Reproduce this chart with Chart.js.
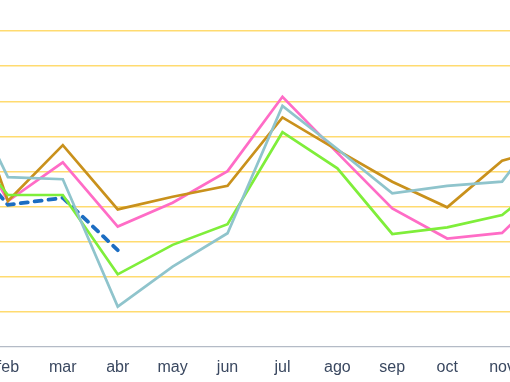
<!DOCTYPE html>
<html>
<head>
<meta charset="utf-8">
<script src="https://cdn.jsdelivr.net/npm/chart.js@4/dist/chart.umd.min.js"></script>
<style>
  html, body { margin: 0; padding: 0; background: #ffffff; overflow: hidden; }
  #wrap { position: relative; width: 510px; height: 382px; overflow: hidden; }
  #c { position: absolute; left: -47px; top: -4px; }
</style>
</head>
<body>
<div id="wrap"><canvas id="c" width="604" height="386"></canvas></div>
<script>
const months = ['ene','feb','mar','abr','may','jun','jul','ago','sep','oct','nov','dic'];
const serieOro   = [8.7, 4.16, 5.75, 3.92, 4.28, 4.59, 6.54, 5.61, 4.71, 3.98, 5.31, 5.75];
const serieRosa  = [7.0, 4.16, 5.26, 3.43, 4.11, 5.01, 7.13, 5.53, 3.95, 3.09, 3.25, 4.76];
const serieVerde = [6.3, 4.33, 4.33, 2.07, 2.91, 3.50, 6.12, 5.09, 3.22, 3.41, 3.76, 5.01];
const serieCeleste = [8.05, 4.84, 4.78, 1.15, 2.29, 3.24, 6.87, 5.64, 4.38, 4.59, 4.71, 6.75];
const serieAzul  = [5.9, 4.05, 4.25, 2.76, null, null, null, null, null, null, null, null];

const ds = (label, data, color, extra) => Object.assign({
  label, data, borderColor: color, backgroundColor: color,
  borderWidth: 2.7, pointRadius: 0, tension: 0, fill: false, spanGaps: false
}, extra || {});

new Chart(document.getElementById('c'), {
  type: 'line',
  data: {
    labels: months,
    datasets: [
      ds('Serie 1', serieCeleste, '#8fc4cc'),
      ds('Serie 2', serieVerde, '#7fee3a'),
      ds('Serie 3', serieOro, '#c9911c'),
      ds('Serie 4', serieRosa, '#ff6cc6'),
      ds('Serie 5', serieAzul, '#1c6dc2', { borderWidth: 3.8, borderDash: [7, 7], borderCapStyle: 'round' })
    ]
  },
  options: {
    responsive: false,
    animation: false,
    devicePixelRatio: 1,
    layout: { padding: 0 },
    plugins: { legend: { display: false }, tooltip: { enabled: false } },
    scales: {
      x: {
        offset: false,
        grid: { display: false, drawTicks: false },
        border: { display: true, color: '#b4bbc6', width: 1.2, z: 1 },
        ticks: { color: '#3a4860', font: { family: 'Liberation Sans', size: 16 }, padding: 11, maxRotation: 0, autoSkip: false },
        afterFit: (s) => { s.height = 35; s.paddingLeft = 0; s.paddingRight = 0; }
      },
      y: {
        min: 0, max: 10,
        grid: { color: (ctx) => ctx.tick && ctx.tick.value === 0 ? 'rgba(0,0,0,0)' : '#ffdb70', lineWidth: 1.5, drawTicks: false },
        border: { display: false },
        ticks: { display: false, stepSize: 1 },
        afterFit: (s) => { s.width = 0; }
      }
    }
  }
});
</script>
</body>
</html>
